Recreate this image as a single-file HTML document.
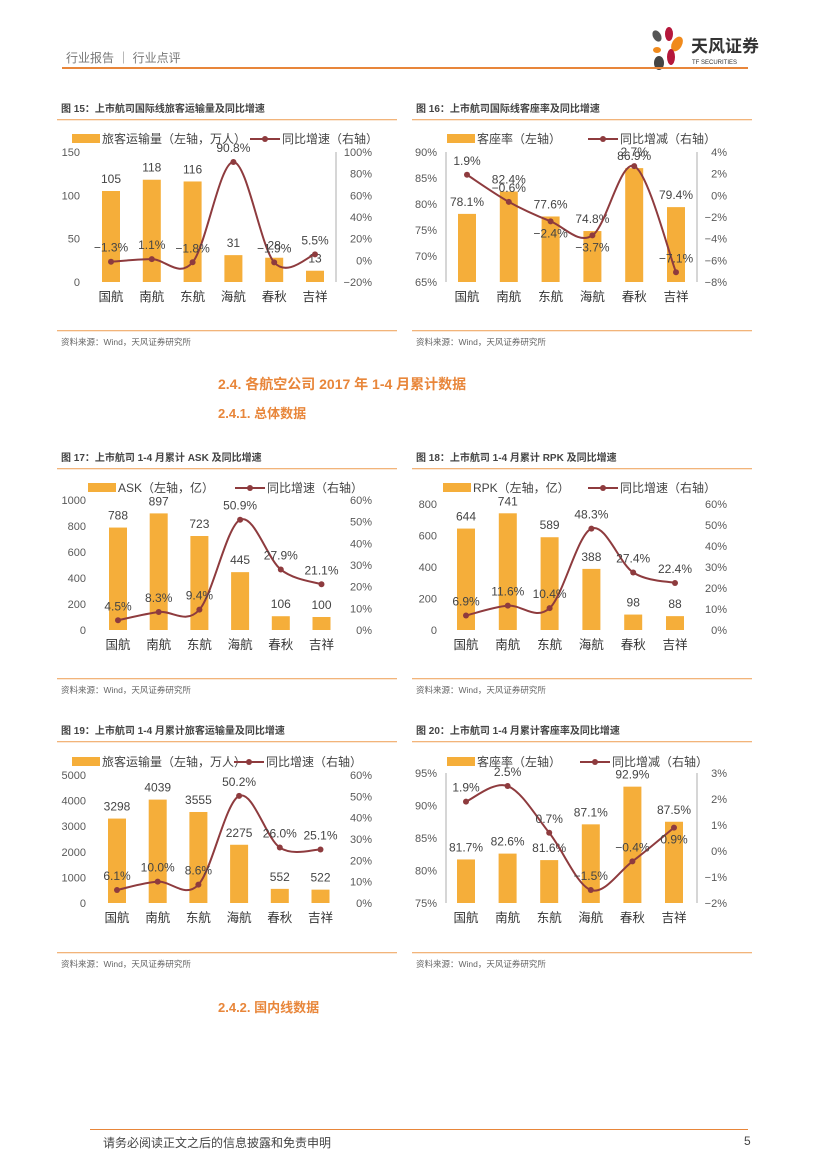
<!DOCTYPE html>
<html><head><meta charset="utf-8"><style>
body{margin:0;width:827px;height:1169px;background:#fff;font-family:"Liberation Sans","Noto Sans CJK SC",sans-serif;overflow:hidden;position:relative}
.t{position:absolute;white-space:nowrap}
</style></head><body>
<div class="t" style="left:66px;top:49px;font-size:12px;color:#777">行业报告 ｜ 行业点评</div>
<div style="position:absolute;left:62px;top:67px;width:686px;height:2px;background:#E8863A"></div>
<svg style="position:absolute;left:645px;top:26px" width="125" height="46">
<ellipse cx="12" cy="10" rx="4" ry="6" fill="#555" transform="rotate(-30 12 10)"/>
<ellipse cx="24" cy="8" rx="4" ry="7" fill="#B5173B"/>
<ellipse cx="32" cy="18" rx="5" ry="8" fill="#F08A1C" transform="rotate(30 32 18)"/>
<ellipse cx="12" cy="24" rx="4" ry="3" fill="#F08A1C"/>
<ellipse cx="26" cy="31" rx="4" ry="8" fill="#B5173B"/>
<ellipse cx="14" cy="37" rx="5" ry="7" fill="#444"/>
<text x="46" y="26" font-size="17" font-weight="bold" fill="#333" font-family="Liberation Sans,Noto Sans CJK SC,sans-serif">天风证券</text>
<text x="47" y="38" font-size="6" fill="#333" font-family="Liberation Sans,sans-serif">TF SECURITIES</text>
<rect x="0" y="41" width="103" height="2" fill="#E8863A"/>
</svg>
<div class="t" style="left:218px;top:374px;font-size:14px;font-weight:bold;color:#E8863A">2.4. 各航空公司 2017 年 1-4 月累计数据</div>
<div class="t" style="left:218px;top:403px;font-size:13px;font-weight:bold;color:#E8863A">2.4.1. 总体数据</div>
<div class="t" style="left:218px;top:997px;font-size:13px;font-weight:bold;color:#E8863A">2.4.2. 国内线数据</div>
<div style="position:absolute;left:90px;top:1129px;width:658px;height:1px;background:#E8863A"></div>
<div class="t" style="left:103px;top:1134px;font-size:12px;color:#444">请务必阅读正文之后的信息披露和免责申明</div>
<div class="t" style="left:744px;top:1134px;font-size:12px;color:#444">5</div>
<svg id="charts" style="position:absolute;left:0;top:0" width="827" height="1169"></svg>
<script>
const categories = ["国航","南航","东航","海航","春秋","吉祥"];
const c15Bars = [105,118,116,31,28,13];
const c15Line = [-1.3,1.1,-1.8,90.8,-1.9,5.5];
const c16Bars = [78.1,82.4,77.6,74.8,86.9,79.4];
const c16Line = [1.9,-0.6,-2.4,-3.7,2.7,-7.1];
const c17Bars = [788,897,723,445,106,100];
const c17Line = [4.5,8.3,9.4,50.9,27.9,21.1];
const c18Bars = [644,741,589,388,98,88];
const c18Line = [6.9,11.6,10.4,48.3,27.4,22.4];
const c19Bars = [3298,4039,3555,2275,552,522];
const c19Line = [6.1,10.0,8.6,50.2,26.0,25.1];
const c20Bars = [81.7,82.6,81.6,87.1,92.9,87.5];
const c20Line = [1.9,2.5,0.7,-1.5,-0.4,0.9];
const c15Ticks = {L:[0,150,50],R:[-20,100,20]};
const c16Ticks = {L:[65,90,5],R:[-8,4,2]};
const c17Ticks = {L:[0,1000,200],R:[0,60,10]};
const c18Ticks = {L:[0,800,200],R:[0,60,10]};
const c19Ticks = {L:[0,5000,1000],R:[0,60,10]};
const c20Ticks = {L:[75,95,5],R:[-2,3,1]};

const NS="http://www.w3.org/2000/svg";
const svg=document.getElementById('charts');
function mk(tag,attrs,parent){const e=document.createElementNS(NS,tag);for(const k in attrs)e.setAttribute(k,attrs[k]);(parent||svg).appendChild(e);return e;}
function txt(x,y,s,size,anchor,fill,parent,weight){const e=mk('text',{x:x,y:y,'font-size':size,'text-anchor':anchor||'start',fill:fill||'#595959','font-family':'Liberation Sans, Noto Sans CJK SC, sans-serif'},parent);if(weight)e.setAttribute('font-weight',weight);e.textContent=s;return e;}
function fmtP(v){return (v<0?'\u2212'+(-v).toFixed(1):v.toFixed(1))+'%';}
function fmtAxP(v){return (v<0?'\u2212'+(-v):v)+'%';}

function chart(o){
  const g=mk('g',{});
  
  
  const tt=txt(o.bx,o.ty,o.title,10,'start','#444',g,'bold');
  
  
  mk('rect',{x:o.bx-4,y:o.ty+7,width:340,height:1.3,fill:'#F2B47A'},g);
  mk('rect',{x:o.bx-4,y:o.sy,width:340,height:1.3,fill:'#F2B47A'},g);
  const st=txt(o.bx,o.sy+15,'资料来源：Wind，天风证券研究所',8.5,'start','#666',g);
  
  
  const [lmin,lmax,lstep]=o.ticks.L,[rmin,rmax,rstep]=o.ticks.R;
  const yL=v=>o.yBot-(v-lmin)/(lmax-lmin)*(o.yBot-o.yTop);
  const yR=v=>o.yBot-(v-rmin)/(rmax-rmin)*(o.yBot-o.yTop);
  const xC=i=>o.cx0+i*o.dx;
  for(let v=lmin;v<=lmax+1e-9;v+=lstep){const t=txt(o.lx,yL(v)+4,o.lp?v+'%':String(v),11,'end','#595959',g);}
  for(let v=rmin;v<=rmax+1e-9;v+=rstep){const t=txt(o.rx,yR(v)+4,fmtAxP(v),11,'end','#595959',g);}
  if(o.axl) mk('line',{x1:o.axl,x2:o.axl,y1:o.yTop,y2:o.yBot,stroke:'#999','stroke-width':0.8},g);
  if(o.axr) mk('line',{x1:o.axr,x2:o.axr,y1:o.yTop,y2:o.yBot,stroke:'#999','stroke-width':0.8},g);
  o.bars.forEach((v,i)=>{
    const b=mk('rect',{x:xC(i)-9,y:yL(v),width:18,height:o.yBot-yL(v),fill:'#F5AE3A'},g);
    
    
    const l=txt(xC(i),yL(v)-8,o.lp?v.toFixed(1)+'%':String(v),12,'middle','#444',g);
    
    
    const c=txt(xC(i),o.yBot+19,categories[i],12.5,'middle','#333',g);
    
    
  });
  const pts=o.line.map((v,i)=>[xC(i),yR(v)]);
  let d='M'+pts[0][0]+','+pts[0][1];
  for(let i=0;i<pts.length-1;i++){
    const p0=pts[Math.max(0,i-1)],p1=pts[i],p2=pts[i+1],p3=pts[Math.min(pts.length-1,i+2)];
    const c1=[p1[0]+(p2[0]-p0[0])/6,p1[1]+(p2[1]-p0[1])/6],c2=[p2[0]-(p3[0]-p1[0])/6,p2[1]-(p3[1]-p1[1])/6];
    d+=' C'+c1[0]+','+c1[1]+' '+c2[0]+','+c2[1]+' '+p2[0]+','+p2[1];
  }
  const ln=mk('path',{d:d,fill:'none',stroke:'#8E3B3E','stroke-width':2},g);
  
  
  pts.forEach((p,i)=>{
    const m=mk('circle',{cx:p[0],cy:p[1],r:3,fill:'#8E3B3E'},g);
    
    
    const below=o.below&&o.below.includes(i);
    const l=txt(p[0],below?p[1]+16:p[1]-10,fmtP(o.line[i]),12,'middle','#444',g);
    
    
  });
  const lg=mk('g',{},g);
  
  
  mk('rect',{x:o.lgx,y:o.lgy-5,width:28,height:9,fill:'#F5AE3A'},lg);
  txt(o.lgx+30,o.lgy+4,o.barName,12,'start','#444',lg);
  mk('line',{x1:o.lgx2,x2:o.lgx2+30,y1:o.lgy,y2:o.lgy,stroke:'#8E3B3E','stroke-width':2},lg);
  mk('circle',{cx:o.lgx2+15,cy:o.lgy,r:3,fill:'#8E3B3E'},lg);
  txt(o.lgx2+32,o.lgy+4,o.lineName,12,'start','#444',lg);
}
chart({name:'chart-fig15',title:'图 15：上市航司国际线旅客运输量及同比增速',bx:61,ty:112,sy:330,bars:c15Bars,line:c15Line,ticks:c15Ticks,yTop:152,yBot:282,cx0:111,dx:40.8,lx:80,rx:372,axr:336,lgx:72,lgy:139,lgx2:250,barName:'旅客运输量（左轴，万人）',lineName:'同比增速（右轴）'});
chart({name:'chart-fig16',title:'图 16：上市航司国际线客座率及同比增速',bx:416,ty:112,sy:330,bars:c16Bars,line:c16Line,ticks:c16Ticks,lp:true,below:[2,3],yTop:152,yBot:282,cx0:467,dx:41.8,lx:437,rx:727,axl:446,axr:697,lgx:447,lgy:139,lgx2:588,barName:'客座率（左轴）',lineName:'同比增减（右轴）'});
chart({name:'chart-fig17',title:'图 17：上市航司 1-4 月累计 ASK 及同比增速',bx:61,ty:461,sy:678,bars:c17Bars,line:c17Line,ticks:c17Ticks,yTop:500,yBot:630,cx0:118,dx:40.7,lx:86,rx:372,lgx:88,lgy:488,lgx2:235,barName:'ASK（左轴，亿）',lineName:'同比增速（右轴）'});
chart({name:'chart-fig18',title:'图 18：上市航司 1-4 月累计 RPK 及同比增速',bx:416,ty:461,sy:678,bars:c18Bars,line:c18Line,ticks:c18Ticks,yTop:504,yBot:630,cx0:466,dx:41.8,lx:437,rx:727,lgx:443,lgy:488,lgx2:588,barName:'RPK（左轴，亿）',lineName:'同比增速（右轴）'});
chart({name:'chart-fig19',title:'图 19：上市航司 1-4 月累计旅客运输量及同比增速',bx:61,ty:734,sy:952,bars:c19Bars,line:c19Line,ticks:c19Ticks,yTop:775,yBot:903,cx0:117,dx:40.7,lx:86,rx:372,lgx:72,lgy:762,lgx2:234,barName:'旅客运输量（左轴，万人）',lineName:'同比增速（右轴）'});
chart({name:'chart-fig20',title:'图 20：上市航司 1-4 月累计客座率及同比增速',bx:416,ty:734,sy:952,bars:c20Bars,line:c20Line,ticks:c20Ticks,lp:true,below:[5],yTop:773,yBot:903,cx0:466,dx:41.6,lx:437,rx:727,axl:446,axr:697,lgx:447,lgy:762,lgx2:580,barName:'客座率（左轴）',lineName:'同比增减（右轴）'});
</script>
</body></html>
